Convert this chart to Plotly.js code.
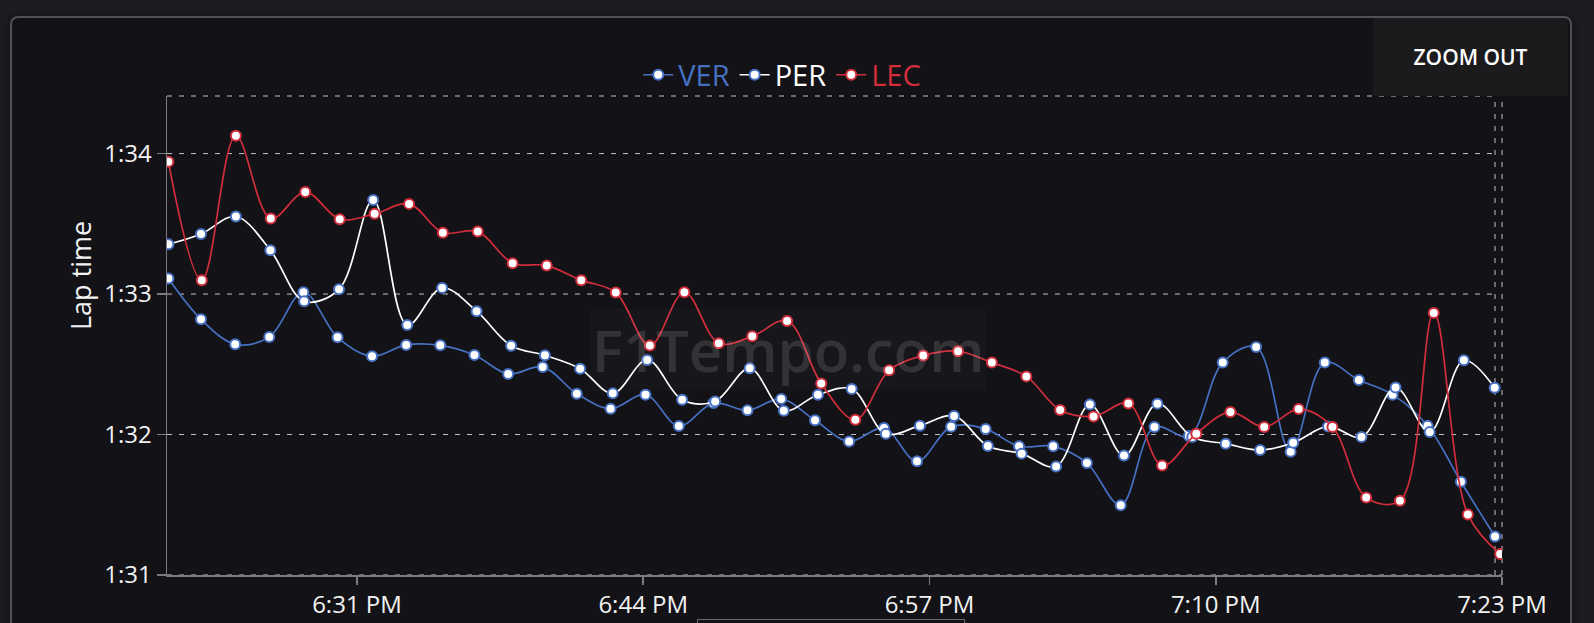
<!DOCTYPE html>
<html>
<head>
<meta charset="utf-8">
<script src="https://cdn.plot.ly/plotly-3.0.1.min.js"></script>
<style>
  html, body { margin:0; padding:0; background:#1d1d21; width:1594px; height:623px; overflow:hidden; font-family:"Open Sans", sans-serif; }
  #panel { position:absolute; left:10px; top:16px; width:1558px; height:700px; border:2px solid #505055; border-radius:8px; background:#131317; box-shadow:0 0 8px rgba(0,0,0,0.5); }
  #plot { position:absolute; left:0; top:0; width:1594px; height:623px; }
  #zoomout { position:absolute; left:1373px; top:18px; width:195px; height:78px; background:#1b1b1d; color:#ffffff; font-family:"Open Sans", sans-serif; font-weight:600; font-size:21px; display:flex; align-items:center; justify-content:center; border-top-right-radius:6px; }
  #brush { position:absolute; left:697px; top:619px; width:266px; height:20px; border:1px solid #6a6a6e; }
</style>
</head>
<body>
<div id="panel"></div>
<div id="plot"></div>
<div id="zoomout">ZOOM OUT</div>
<div id="brush"></div>
<script>
const day = "2022-04-10 ";
const drivers = ["VER", "PER", "LEC"];

const tVER = ["18:22:26","18:23:55","18:25:28","18:27:01","18:28:34","18:30:07","18:31:41","18:33:14","18:34:47","18:36:20","18:37:52","18:39:26","18:40:59","18:42:31","18:44:06","18:45:37","18:47:11","18:48:44","18:50:16","18:51:48","18:53:21","18:54:56","18:56:26","18:57:59","18:59:33","19:01:04","19:02:37","19:04:09","19:05:41","19:07:13","19:08:47","19:10:19","19:11:50","19:13:24","19:14:57","19:16:30","19:18:02","19:19:37","19:21:08","19:22:41"];
const lapVER = [93.111,92.821,92.643,92.695,93.013,92.692,92.557,92.638,92.635,92.566,92.431,92.481,92.291,92.184,92.284,92.060,92.224,92.172,92.253,92.101,91.951,92.046,91.809,92.056,92.039,91.916,91.916,91.797,91.497,92.053,91.989,92.512,92.623,91.878,92.512,92.388,92.284,92.063,91.664,91.274];

const tPER = ["18:22:26","18:23:55","18:25:30","18:27:04","18:28:36","18:30:11","18:31:44","18:33:17","18:34:52","18:36:26","18:38:00","18:39:32","18:41:08","18:42:37","18:44:11","18:45:46","18:47:16","18:48:50","18:50:23","18:51:56","18:53:28","18:55:01","18:56:34","18:58:07","18:59:39","19:01:11","19:02:45","19:04:17","19:05:50","19:07:21","19:08:56","19:10:27","19:12:01","19:13:31","19:15:06","19:16:37","19:18:10","19:19:43","19:21:16","19:22:40"];
const lapPER = [93.355,93.428,93.552,93.312,92.949,93.034,93.669,92.780,93.044,92.878,92.632,92.564,92.469,92.293,92.531,92.248,92.236,92.471,92.170,92.283,92.324,92.006,92.063,92.132,91.918,91.864,91.773,92.213,91.850,92.220,91.982,91.935,91.889,91.942,92.058,91.982,92.334,92.018,92.528,92.333];

const tLEC = ["18:22:26","18:23:57","18:25:30","18:27:05","18:28:39","18:30:13","18:31:48","18:33:22","18:34:54","18:36:29","18:38:04","18:39:37","18:41:11","18:42:45","18:44:18","18:45:52","18:47:26","18:48:57","18:50:32","18:52:05","18:53:38","18:55:10","18:56:43","18:58:18","18:59:50","19:01:24","19:02:56","19:04:27","19:06:02","19:07:34","19:09:07","19:10:40","19:12:12","19:13:46","19:15:18","19:16:50","19:18:22","19:19:54","19:21:27","19:22:55"];
const lapLEC = [93.942,93.099,94.127,93.538,93.726,93.533,93.571,93.642,93.437,93.446,93.220,93.203,93.099,93.011,92.633,93.013,92.650,92.699,92.809,92.363,92.106,92.457,92.562,92.593,92.512,92.414,92.174,92.129,92.221,91.780,92.006,92.160,92.053,92.181,92.053,91.552,91.529,92.866,91.431,91.150];

const yTickVals = [91, 92, 93, 94];
const yTickText = ["1:31", "1:32", "1:33", "1:34"];
const xStart = "18:22:22.3";
const xEnd = "19:23:00";

const BLUE = "#4670c2", RED = "#d12d3b", WHITE = "#ffffff";

function mk(name, t, v, lineColor, markerLine) {
  return {
    type: "scatter", mode: "lines+markers",
    name: '<span style="color:' + lineColor + '">' + name + '</span>',
    x: t.map(s => day + s), y: v,
    line: { color: lineColor, width: 1.7, shape: "spline", smoothing: 1 },
    marker: { size: 10, color: "#ffffff", line: { color: markerLine, width: 2 } },
    hoverinfo: "skip"
  };
}

const traces = [
  mk(drivers[0], tVER, lapVER, BLUE, BLUE),
  mk(drivers[1], tPER, lapPER, WHITE, BLUE),
  mk(drivers[2], tLEC, lapLEC, RED, RED)
];

const lastX = day + tVER[tVER.length - 1];
const dash = { color: "#c4c4c4", width: 1, dash: "5px,7px" };
const shapes = [];
yTickVals.forEach(v => shapes.push({ type: "line", xref: "paper", yref: "y", x0: 0, x1: (v === 91 ? 1 : 0.99476), y0: v, y1: v, line: dash, layer: v === 91 ? "above" : "below" }));
shapes.push({ type: "line", xref: "paper", yref: "paper", x0: 0, x1: 0.99476, y0: 1, y1: 1, line: dash, layer: "below" });
shapes.push({ type: "line", xref: "x", yref: "paper", x0: lastX, x1: lastX, y0: 0, y1: 1, line: dash, layer: "below" });
shapes.push({ type: "line", xref: "paper", yref: "paper", x0: 1, x1: 1, y0: 0, y1: 1, line: dash, layer: "below" });

const layout = {
  width: 1594, height: 623,
  margin: { l: 167, r: 92, t: 96, b: 48 },
  paper_bgcolor: "rgba(0,0,0,0)", plot_bgcolor: "rgba(0,0,0,0)",
  font: { family: "Open Sans, sans-serif", color: "#f2f2f2" },
  showlegend: true,
  legend: {
    orientation: "h", x: 0.353, xanchor: "left", y: 1.044, yanchor: "middle",
    font: { size: 29 }, bgcolor: "rgba(0,0,0,0)", itemclick: false
  },
  xaxis: {
    type: "date", range: [day + xStart, day + xEnd],
    tick0: day + "18:31:00", dtick: 780000, tickformat: "%-I:%M %p",
    showgrid: false, zeroline: false,
    showline: true, linecolor: "#7c7c80", linewidth: 1.5,
    ticks: "outside", ticklen: 8, tickcolor: "#7c7c80", tickwidth: 1.5,
    tickfont: { size: 24, color: "#f2f2f2" }
  },
  yaxis: {
    range: [91, 94.41], tickmode: "array", tickvals: yTickVals, ticktext: yTickText,
    showgrid: false, zeroline: false,
    showline: true, linecolor: "#7c7c80", linewidth: 1.5,
    ticks: "outside", ticklen: 9, tickcolor: "#7c7c80", tickwidth: 1.5,
    tickfont: { size: 24, color: "#f2f2f2" }
  },
  shapes: shapes,
  annotations: [
    { text: "Lap time", xref: "paper", yref: "paper", x: -0.0652, y: 0.626, textangle: -90,
      showarrow: false, font: { size: 27, color: "#f2f2f2" }, xanchor: "center", yanchor: "middle" },
    { text: "F1Tempo.com", xref: "paper", yref: "paper", x: 0.4652, y: 0.47,
      showarrow: false, font: { size: 58, color: "rgba(255,255,255,0.12)", weight: 600 },
      bgcolor: "rgba(255,255,255,0.018)", xanchor: "center", yanchor: "middle" }
  ]
};

Plotly.newPlot("plot", traces, layout, { displayModeBar: false, staticPlot: true });
</script>
</body>
</html>
